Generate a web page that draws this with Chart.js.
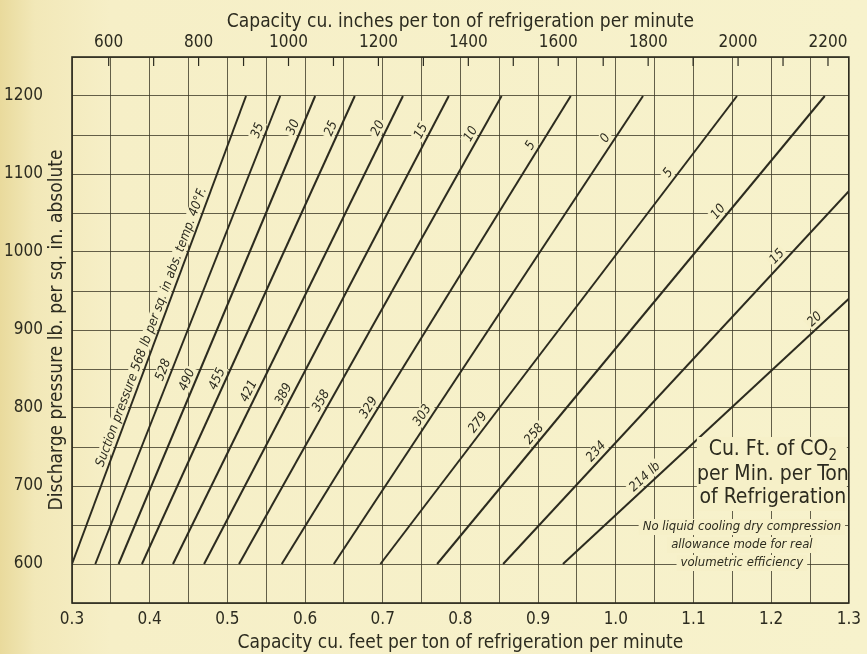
<!DOCTYPE html>
<html>
<head>
<meta charset="utf-8">
<script src="https://cdn.jsdelivr.net/npm/chart.js@4.4.0/dist/chart.umd.min.js"></script>
<style>
html, body { margin: 0; padding: 0; }
body {
  width: 867px; height: 654px; overflow: hidden;
  background: linear-gradient(to right, #e9da9c 0px, #f2e8b8 35px, #f6efc7 110px, #f7f2cc 100%);
}
canvas { display: block; }
</style>
</head>
<body>
<canvas id="chart" width="867" height="654"></canvas>
<script>
// suction pressure (lb abs.) and temperature (deg F) of each line
var suctionPressure = [568, 528, 490, 455, 421, 389, 358, 329, 303, 279, 258, 234, 214];
var suctionTemp = [40, 35, 30, 25, 20, 15, 10, 5, 0, -5, -10, -15, -20];

// capacity cu. ft at 600 lb discharge, and at the upper end of each line
var lowerPressure = 600;
var feetAtStart = [0.30, 0.33, 0.36, 0.39, 0.43, 0.47, 0.515, 0.57, 0.637, 0.697, 0.77, 0.855, 0.932];
var feetAtEnd = [0.524, 0.568, 0.613, 0.664, 0.726, 0.785, 0.853, 0.942, 1.035, 1.156, 1.269, 1.3, 1.3];
var upperPressure = [1200, 1200, 1200, 1200, 1200, 1200, 1200, 1200, 1200, 1200, 1200, 1078, 940];

// where the labels sit along each line (discharge pressure)
var pressureLabelAt = [900, 845, 832, 833, 817, 813, 804, 795, 785, 775, 760, 737, 704];
var tempLabelAt = [null, 1152, 1156, 1154, 1154, 1150, 1146, 1131, 1140, 1095, 1045, 987, 906];

// tick labels
var feetLabels = ['0.3', '0.4', '0.5', '0.6', '0.7', '0.8', '0.9', '1.0', '1.1', '1.2', '1.3'];
var inchLabels = ['600', '800', '1000', '1200', '1400', '1600', '1800', '2000', '2200'];
var pressureLabels = ['600', '700', '800', '900', '1000', '1100', '1200'];

var CU_IN_PER_CU_FT = 1728;
var FONT = '"Liberation Sans Narrow", "DejaVu Sans Condensed", sans-serif';
var INK = '#2c2b1f';
var GRID = 'rgba(58,54,36,0.78)';
var PAPER = '#f6f0c8';

var feetGrid = [];
for (var k = 0; k <= 20; k++) feetGrid.push(+(0.3 + 0.05 * k).toFixed(2));
var pressureGrid = [];
for (var p = 550; p <= 1250; p += 50) pressureGrid.push(p);
var inchTicks = [];
for (var q = 600; q <= 2200; q += 100) inchTicks.push(q);

function linePoint(chart, i, pr) {
  var t = (pr - lowerPressure) / (upperPressure[i] - lowerPressure);
  var f = feetAtStart[i] + t * (feetAtEnd[i] - feetAtStart[i]);
  return { x: chart.scales.x.getPixelForValue(f), y: chart.scales.y.getPixelForValue(pr) };
}

function drawAlong(ctx, chart, i, pr, text, off) {
  var a = linePoint(chart, i, lowerPressure);
  var b = linePoint(chart, i, upperPressure[i]);
  var ang = Math.atan2(b.y - a.y, b.x - a.x);
  var pt = linePoint(chart, i, pr);
  ctx.save();
  ctx.translate(pt.x, pt.y);
  ctx.rotate(ang);
  ctx.font = 'italic 13px ' + FONT;
  var w = ctx.measureText(text).width;
  ctx.fillStyle = PAPER;
  ctx.fillRect(-w / 2 - 2, -off - 7, w + 4, 13);
  ctx.fillStyle = INK;
  ctx.textAlign = 'center';
  ctx.textBaseline = 'middle';
  ctx.fillText(text, 0, -off);
  ctx.restore();
}

var decorations = {
  id: 'decorations',
  afterDatasetsDraw: function (chart) {
    var ctx = chart.ctx;
    var area = chart.chartArea;

    // frame
    ctx.save();
    ctx.strokeStyle = INK;
    ctx.lineWidth = 1.6;
    ctx.strokeRect(area.left, area.top, area.right - area.left, area.bottom - area.top);

    // inward ticks of the top (cu. inches) scale
    var x2 = chart.scales.x2;
    ctx.lineWidth = 1.2;
    inchTicks.forEach(function (v) {
      var x = x2.getPixelForValue(v);
      ctx.beginPath();
      ctx.moveTo(x, area.top);
      ctx.lineTo(x, area.top + 9);
      ctx.stroke();
    });
    ctx.restore();

    // labels along the lines
    suctionPressure.forEach(function (sp, i) {
      var txt;
      if (i === 0) txt = 'Suction pressure ' + sp + ' lb per sq. in abs. temp. ' + suctionTemp[i] + '°F.';
      else if (i === suctionPressure.length - 1) txt = sp + ' lb';
      else txt = String(sp);
      drawAlong(ctx, chart, i, pressureLabelAt[i], txt, 8);
      if (tempLabelAt[i] !== null) {
        drawAlong(ctx, chart, i, tempLabelAt[i], String(Math.abs(suctionTemp[i])), 8);
      }
    });

    // legend box text
    ctx.save();
    var cx = area.right - 76;
    ctx.font = '21px ' + FONT;
    ctx.textBaseline = 'middle';
    var main = 'Cu. Ft. of CO';
    var w1 = ctx.measureText(main).width;
    ctx.font = '15px ' + FONT;
    var wSub = ctx.measureText('2').width;
    var lines = [['per Min. per Ton', area.top + 418], ['of Refrigeration', area.top + 441]];
    ctx.fillStyle = PAPER;
    ctx.fillRect(cx - 76, area.top + 380, 150, 74);
    ctx.font = '21px ' + FONT;
    ctx.fillStyle = INK;
    var total = w1 + wSub;
    ctx.textAlign = 'left';
    ctx.fillText(main, cx - total / 2, area.top + 393);
    ctx.font = '15px ' + FONT;
    ctx.fillText('2', cx - total / 2 + w1, area.top + 399);
    ctx.font = '21px ' + FONT;
    ctx.textAlign = 'center';
    lines.forEach(function (l) { ctx.fillText(l[0], cx, l[1]); });

    // note
    var note = [['No liquid cooling dry compression', area.top + 470],
                ['allowance mode for real', area.top + 488],
                ['volumetric efficiency', area.top + 506]];
    ctx.font = 'italic 13px ' + FONT;
    var nx = area.right - 107;
    note.forEach(function (l) {
      var w = ctx.measureText(l[0]).width;
      ctx.fillStyle = PAPER;
      ctx.fillRect(nx - w / 2 - 4, l[1] - 8, w + 8, 16);
      ctx.fillStyle = INK;
      ctx.fillText(l[0], nx, l[1]);
    });
    ctx.restore();

    // left title (sits between tick labels and the axis)
    ctx.save();
    ctx.translate(area.left - 15, (area.top + area.bottom) / 2);
    ctx.rotate(-Math.PI / 2);
    ctx.font = '19px ' + FONT;
    ctx.fillStyle = INK;
    ctx.textAlign = 'center';
    ctx.textBaseline = 'middle';
    ctx.fillText('Discharge pressure lb. per sq. in. absolute', 0, 0);
    ctx.restore();
  }
};

var datasets = suctionPressure.map(function (sp, i) {
  return {
    label: sp + ' lb',
    data: [{ x: feetAtStart[i], y: lowerPressure }, { x: feetAtEnd[i], y: upperPressure[i] }],
    showLine: true,
    borderColor: INK,
    borderWidth: 2,
    pointRadius: 0,
    fill: false
  };
});

var tickFont = { family: FONT, size: 17 };
var titleFont = { family: FONT, size: 19 };

new Chart(document.getElementById('chart'), {
  type: 'scatter',
  data: { datasets: datasets },
  plugins: [decorations],
  options: {
    responsive: false,
    animation: false,
    layout: { padding: { left: 0, right: 15, top: 0, bottom: 0 } },
    plugins: { legend: { display: false }, tooltip: { enabled: false } },
    scales: {
      x: {
        type: 'linear', position: 'bottom', min: 0.3, max: 1.3,
        afterBuildTicks: function (s) { s.ticks = feetGrid.map(function (v) { return { value: v }; }); },
        afterFit: function (s) { s.height = 51; },
        ticks: {
          autoSkip: false, maxRotation: 0, padding: 6, color: INK, font: tickFont,
          callback: function (v, idx) { return idx % 2 === 0 ? feetLabels[idx / 2] : ''; }
        },
        grid: { color: GRID, lineWidth: 1, drawTicks: false },
        border: { display: false },
        title: { display: true, text: 'Capacity cu. feet per ton of refrigeration per minute',
                 color: INK, font: titleFont, padding: { top: 0, bottom: 0 } }
      },
      x2: {
        type: 'linear', position: 'top',
        min: 0.3 * CU_IN_PER_CU_FT, max: 1.3 * CU_IN_PER_CU_FT,
        afterBuildTicks: function (s) { s.ticks = inchTicks.map(function (v) { return { value: v }; }); },
        afterFit: function (s) { s.height = 57; },
        ticks: {
          autoSkip: false, maxRotation: 0, padding: 4, color: INK, font: tickFont,
          callback: function (v) { var i = inchLabels.indexOf(String(v)); return i >= 0 ? inchLabels[i] : ''; }
        },
        grid: { display: false, drawTicks: false },
        border: { display: false },
        title: { display: true, text: 'Capacity cu. inches per ton of refrigeration per minute',
                 color: INK, font: titleFont, padding: { top: 11, bottom: 0 } }
      },
      y: {
        type: 'linear', min: 550, max: 1250,
        afterBuildTicks: function (s) { s.ticks = pressureGrid.map(function (v) { return { value: v }; }); },
        afterFit: function (s) { s.width = 72; },
        ticks: {
          autoSkip: false, padding: 29, color: INK, font: tickFont,
          callback: function (v) { var i = pressureLabels.indexOf(String(v)); return i >= 0 ? pressureLabels[i] : ''; }
        },
        grid: { color: GRID, lineWidth: 1, drawTicks: false },
        border: { display: false }
      }
    }
  }
});
</script>
</body>
</html>
